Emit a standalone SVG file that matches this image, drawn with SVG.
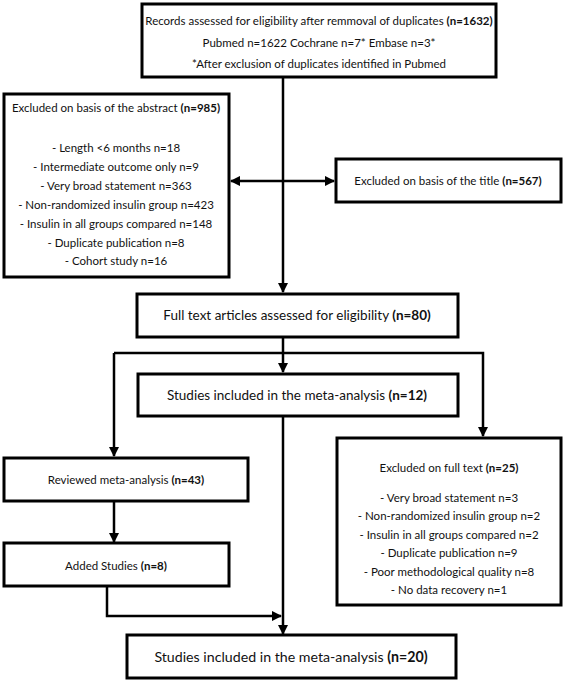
<svg xmlns="http://www.w3.org/2000/svg" width="567" height="681" viewBox="0 0 567 681">
<defs>
<style>
.box{fill:#fff;stroke:#000;stroke-width:3}
.t{font-family:Lato,"Open Sans","Liberation Sans",sans-serif;font-size:11.5px;fill:#111;text-anchor:middle}
.L{font-size:13.5px}
.XL{font-size:14.2px}
.b{font-weight:bold}
.c{fill:none;stroke:#000;stroke-width:2.5}
</style>
<marker id="ah" viewBox="0 0 10 10" refX="9" refY="5" markerWidth="4.2" markerHeight="4.2" orient="auto-start-reverse" markerUnits="strokeWidth">
<path d="M0,0 L10,5 L0,10 Z" fill="#000"/>
</marker>
</defs>
<rect width="567" height="681" fill="#fff"/>
<g id="connectors">
<path class="c" d="M283,77 V292" marker-end="url(#ah)"/>
<path class="c" d="M231,181 H334" marker-start="url(#ah)" marker-end="url(#ah)"/>
<path class="c" d="M283,338 V372" marker-end="url(#ah)"/>
<path class="c" d="M114,353 H483 V436" marker-end="url(#ah)"/>
<path class="c" d="M114,353 V456" marker-end="url(#ah)"/>
<path class="c" d="M283,417 V634" marker-end="url(#ah)"/>
<path class="c" d="M114,502 V542" marker-end="url(#ah)"/>
<path class="c" d="M107,587 V616 H281" marker-end="url(#ah)"/>
</g>
<g id="records">
<rect class="box" x="142" y="4" width="354" height="73"/>
<text class="t" x="319" y="25">Records assessed for eligibility after remmoval of duplicates <tspan class="b">(n=1632)</tspan></text>
<text class="t" x="319" y="47">Pubmed n=1622 Cochrane n=7* Embase n=3*</text>
<text class="t" x="319" y="68">*After exclusion of duplicates identified in Pubmed</text>
</g>
<g id="abstract">
<rect class="box" x="4" y="94" width="225" height="183"/>
<text class="t" x="116" y="112">Excluded on basis of the abstract <tspan class="b">(n=985)</tspan></text>
<text class="t" x="116" y="152">- Length &lt;6 months n=18</text>
<text class="t" x="116" y="171">- Intermediate outcome only n=9</text>
<text class="t" x="116" y="190">- Very broad statement n=363</text>
<text class="t" x="116" y="209">- Non-randomized insulin group n=423</text>
<text class="t" x="116" y="228">- Insulin in all groups compared n=148</text>
<text class="t" x="116" y="247">- Duplicate publication n=8</text>
<text class="t" x="116" y="265">- Cohort study n=16</text>
</g>
<g id="title">
<rect class="box" x="336" y="159" width="225" height="43"/>
<text class="t" x="448" y="185">Excluded on basis of the title <tspan class="b">(n=567)</tspan></text>
</g>
<g id="fulltext">
<rect class="box" x="137" y="294" width="321" height="43"/>
<text class="t L" x="297" y="320">Full text articles assessed for eligibility <tspan class="b">(n=80)</tspan></text>
</g>
<g id="studies12">
<rect class="box" x="138" y="374" width="320" height="42"/>
<text class="t L" x="297" y="400">Studies included in the meta-analysis <tspan class="b">(n=12)</tspan></text>
</g>
<g id="excludedfull">
<rect class="box" x="337" y="438" width="224" height="167"/>
<text class="t" x="449" y="472">Excluded on full text <tspan class="b">(n=25)</tspan></text>
<text class="t" x="449" y="502">- Very broad statement n=3</text>
<text class="t" x="449" y="520">- Non-randomized insulin group n=2</text>
<text class="t" x="449" y="539">- Insulin in all groups compared n=2</text>
<text class="t" x="449" y="557">- Duplicate publication n=9</text>
<text class="t" x="449" y="576">- Poor methodological quality n=8</text>
<text class="t" x="449" y="594">- No data recovery n=1</text>
</g>
<g id="reviewed">
<rect class="box" x="4" y="458" width="244" height="43"/>
<text class="t" x="126" y="484">Reviewed meta-analysis <tspan class="b">(n=43)</tspan></text>
</g>
<g id="added">
<rect class="box" x="4" y="543" width="225" height="43"/>
<text class="t" x="116" y="570">Added Studies <tspan class="b">(n=8)</tspan></text>
</g>
<g id="studies20">
<rect class="box" x="127" y="635" width="329" height="43"/>
<text class="t XL" x="291" y="662">Studies included in the meta-analysis <tspan class="b">(n=20)</tspan></text>
</g>
</svg>
